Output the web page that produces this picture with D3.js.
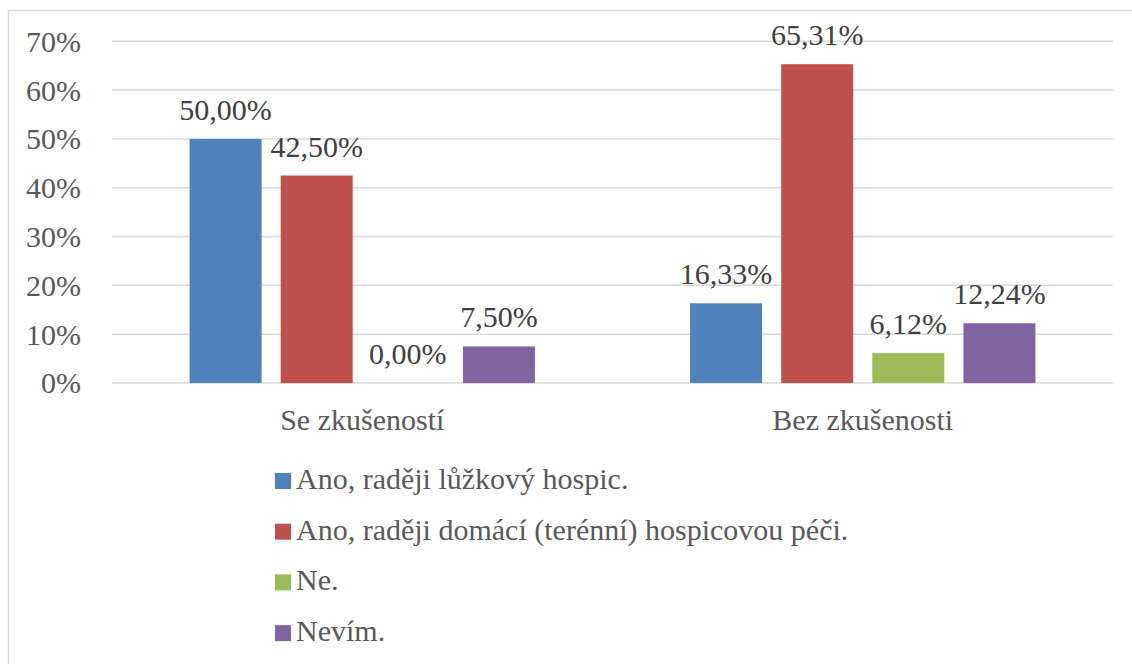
<!DOCTYPE html>
<html>
<head>
<meta charset="utf-8">
<script src="https://cdn.jsdelivr.net/npm/d3@7"></script>
<style>
  body { margin: 0; background: #fff; }
</style>
</head>
<body>
<div class="svg-container"></div>
<script>
var width = 1132;
var height = 664;

// chart data
var categories = ["Se zkušeností", "Bez zkušenosti"];
var series = ["Ano, raději lůžkový hospic.",
              "Ano, raději domácí (terénní) hospicovou péči.",
              "Ne.",
              "Nevím."];
var colors = ["#4F81BD", "#C0504D", "#9BBB59", "#8064A2"];
// values per series, one entry per category
var valuesAnoLuzkovy = [0.5000, 0.1633];
var valuesAnoDomaci  = [0.4250, 0.6531];
var valuesNe         = [0.0000, 0.0612];
var valuesNevim      = [0.0750, 0.1224];
var seriesValues = [valuesAnoLuzkovy, valuesAnoDomaci, valuesNe, valuesNevim];
var yTicks = [0, 0.1, 0.2, 0.3, 0.4, 0.5, 0.6, 0.7];

var fontFamily = "'Liberation Serif', 'Times New Roman', Tinos, serif";
var plot = { left: 112, right: 1113, top: 41.3, bottom: 383 };

var svg = d3.select(".svg-container")
            .append("svg")
            .attr("width", width)
            .attr("height", height);

// chart border (only left and top edges are inside the picture)
svg.append("rect")
   .attr("x", 8.5)
   .attr("y", 10.5)
   .attr("width", width + 20)
   .attr("height", height + 20)
   .attr("fill", "none")
   .attr("stroke", "#d9d9d9")
   .attr("stroke-width", 1.5);

var scaleY = d3.scaleLinear()
               .domain([0, 0.7])
               .range([plot.bottom, plot.top]);

var scaleX0 = d3.scaleBand()
                .domain(categories)
                .range([plot.left, plot.right])
                .padding(0);

var groupWidth = scaleX0.bandwidth() * 0.69;

var scaleX1 = d3.scaleBand()
                .domain(series)
                .range([0, groupWidth])
                .paddingInner(0.21)
                .paddingOuter(0);

var fmtPct = function(v) { return d3.format(".2f")(v * 100).replace(".", ",") + "%"; };

// gridlines
svg.append("g")
   .attr("class", "grid")
   .selectAll("line")
   .data(yTicks)
   .enter()
   .append("line")
   .attr("x1", plot.left)
   .attr("x2", plot.right)
   .attr("y1", function(d) { return scaleY(d); })
   .attr("y2", function(d) { return scaleY(d); })
   .attr("stroke", "#d9d9d9")
   .attr("stroke-width", 1.5);

// y axis labels
var yAxis = d3.axisLeft(scaleY)
              .tickValues(yTicks)
              .tickSize(0)
              .tickPadding(0)
              .tickFormat(function(d) { return Math.round(d * 100) + "%"; });

var gy = svg.append("g")
            .attr("transform", "translate(81,0)")
            .call(yAxis);
gy.select(".domain").remove();
gy.selectAll("text")
  .style("font-family", fontFamily, "important")
  .style("font-size", "30px", "important")
  .attr("fill", "#595959")
  .attr("dy", "0.33em");

// bars
var groups = svg.append("g")
                .selectAll("g")
                .data(categories)
                .enter()
                .append("g")
                .attr("transform", function(c) {
                    return "translate(" + (scaleX0(c) + (scaleX0.bandwidth() - groupWidth) / 2) + ",0)";
                });

function rowsFor(c, ci) {
    return series.map(function(s, si) { return { s: s, si: si, v: seriesValues[si][ci] }; });
}

groups.selectAll("rect")
      .data(rowsFor)
      .enter()
      .append("rect")
      .attr("x", function(d) { return scaleX1(d.s); })
      .attr("width", scaleX1.bandwidth())
      .attr("y", function(d) { return scaleY(d.v); })
      .attr("height", function(d) { return scaleY(0) - scaleY(d.v); })
      .attr("fill", function(d) { return colors[d.si]; });

// data labels
groups.selectAll("text.label")
      .data(rowsFor)
      .enter()
      .append("text")
      .attr("class", "label")
      .attr("x", function(d) { return scaleX1(d.s) + scaleX1.bandwidth() / 2; })
      .attr("y", function(d) { return scaleY(d.v) - 19; })
      .attr("text-anchor", "middle")
      .style("font-family", fontFamily, "important")
      .style("font-size", "30px", "important")
      .attr("fill", "#404040")
      .text(function(d) { return fmtPct(d.v); });

// category labels
svg.append("g")
   .selectAll("text")
   .data(categories)
   .enter()
   .append("text")
   .attr("x", function(c) { return scaleX0(c) + scaleX0.bandwidth() / 2; })
   .attr("y", 430)
   .attr("text-anchor", "middle")
   .style("font-family", fontFamily, "important")
   .style("font-size", "30px", "important")
   .attr("fill", "#595959")
   .text(function(c) { return c; });

// legend
var legend = svg.append("g")
                .attr("transform", "translate(275,473)")
                .selectAll("g")
                .data(series)
                .enter()
                .append("g")
                .attr("transform", function(d, i) { return "translate(0," + (i * 50.7) + ")"; });

legend.append("rect")
      .attr("width", 16)
      .attr("height", 16)
      .attr("fill", function(d, i) { return colors[i]; });

legend.append("text")
      .attr("x", 21)
      .attr("y", 16)
      .style("font-family", fontFamily, "important")
      .style("font-size", "30px", "important")
      .attr("fill", "#595959")
      .text(function(d) { return d; });
</script>
</body>
</html>
